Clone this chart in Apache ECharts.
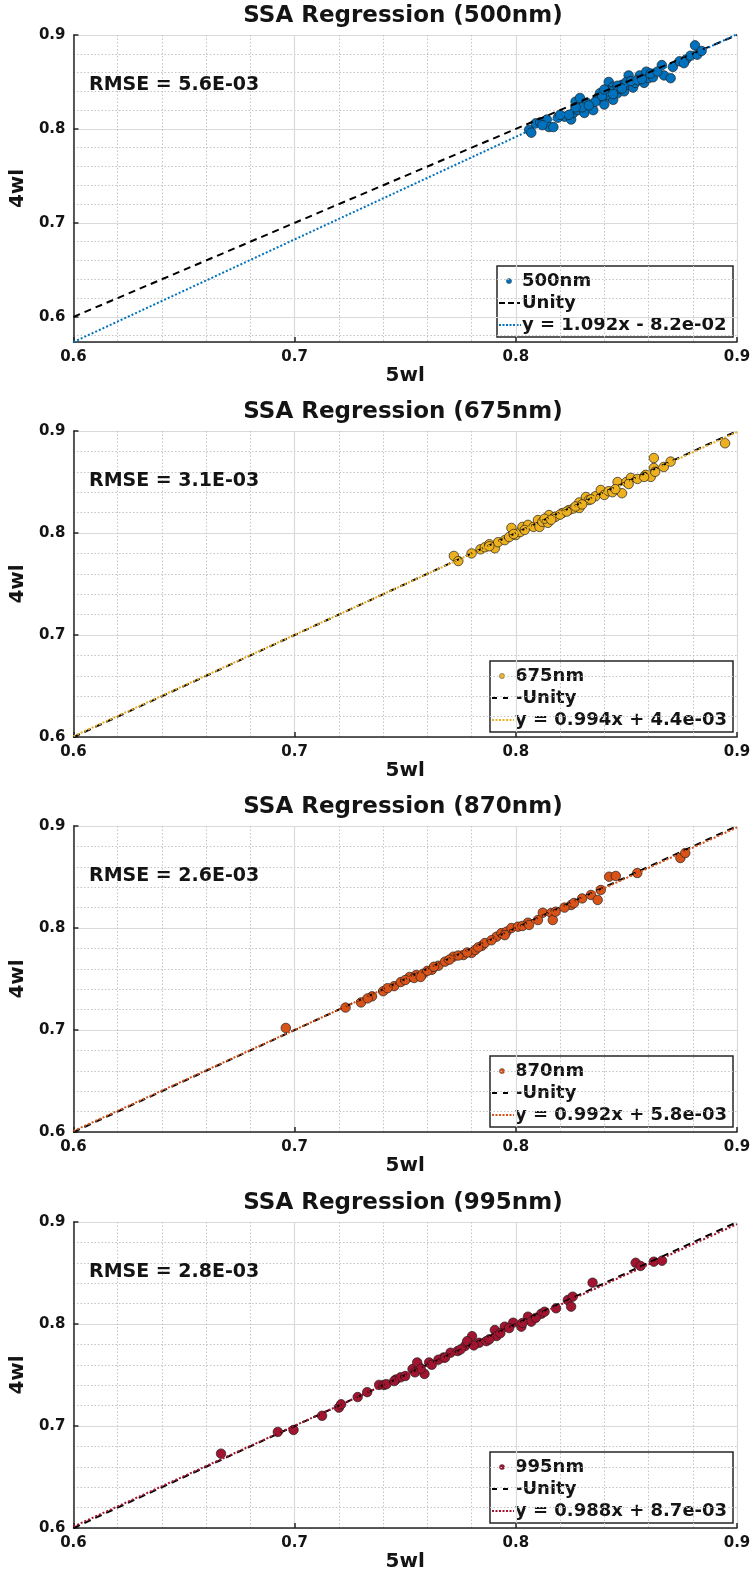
<!DOCTYPE html>
<html>
<head>
<meta charset="utf-8">
<script src="https://cdn.jsdelivr.net/npm/echarts@6/dist/echarts.min.js"></script>
<style>
  html, body { margin: 0; padding: 0; background: #ffffff; }
  #chart { width: 754px; height: 1580px; }
</style>
</head>
<body>
<div id="chart"></div>
<script>
// ---- data ----
const bands = ['500nm', '675nm', '870nm', '995nm'];
const titles = ['SSA Regression (500nm)', 'SSA Regression (675nm)', 'SSA Regression (870nm)', 'SSA Regression (995nm)'];
const colors = ['#0072BD', '#EDB120', '#D95319', '#A2142F'];
const slopes = [1.092, 0.994, 0.992, 0.988];
const intercepts = [-8.2e-2, 4.4e-3, 5.8e-3, 8.7e-3];
const fitLabels = ['y = 1.092x - 8.2e-02', 'y = 0.994x + 4.4e-03', 'y = 0.992x + 5.8e-03', 'y = 0.988x + 8.7e-03'];
const rmseLabels = ['RMSE = 5.6E-03', 'RMSE = 3.1E-03', 'RMSE = 2.6E-03', 'RMSE = 2.8E-03'];
const xRange = [0.6, 0.9];
const yMins = [0.5732, 0.6, 0.6, 0.6];
const yMax = 0.9;
const unityEnds = [0.6, 0.9];
const xName = '5wl';
const yName = '4wl';

const pts500 = [
  [0.806,0.799],[0.807,0.796],[0.809,0.806],[0.811,0.807],[0.814,0.810],[0.815,0.802],[0.817,0.802],[0.812,0.804],
  [0.822,0.813],[0.825,0.810],[0.826,0.817],[0.827,0.829],[0.829,0.833],[0.828,0.820],[0.831,0.817],[0.832,0.828],
  [0.835,0.820],[0.824,0.815],[0.830,0.823],[0.838,0.838],[0.839,0.831],[0.840,0.826],[0.842,0.850],[0.842,0.841],
  [0.843,0.834],[0.844,0.845],[0.844,0.831],[0.846,0.838],[0.848,0.847],[0.849,0.840],[0.851,0.857],[0.851,0.847],
  [0.853,0.844],[0.854,0.849],[0.856,0.857],[0.858,0.849],[0.859,0.861],[0.860,0.854],[0.862,0.855],[0.866,0.868],
  [0.867,0.857],[0.870,0.854],[0.871,0.866],[0.841,0.836],[0.845,0.842],[0.847,0.843],[0.850,0.850],[0.837,0.833],
  [0.843,0.840],[0.874,0.872],[0.877,0.874],[0.879,0.878],[0.881,0.889],[0.882,0.879],[0.884,0.883],[0.876,0.870],
  [0.836,0.829],[0.839,0.835],[0.840,0.842],[0.844,0.837],[0.846,0.846],[0.848,0.843],[0.852,0.851],[0.855,0.852],
  [0.857,0.853],[0.861,0.859],[0.864,0.861],[0.833,0.825],[0.827,0.823],[0.819,0.812],[0.820,0.815]
];
const pts675 = [
  [0.772,0.7775],[0.774,0.7725],[0.780,0.780],[0.784,0.784],[0.786,0.786],[0.788,0.789],[0.7905,0.785],[0.792,0.791],
  [0.795,0.793],[0.798,0.805],[0.797,0.796],[0.800,0.798],[0.802,0.801],[0.803,0.806],[0.8055,0.808],[0.808,0.806],
  [0.810,0.8127],[0.8107,0.806],[0.812,0.811],[0.8145,0.810],[0.815,0.8176],[0.8175,0.8157],[0.818,0.816],[0.821,0.8196],
  [0.824,0.8225],[0.826,0.824],[0.8287,0.8245],[0.8287,0.830],[0.8317,0.8353],[0.833,0.8323],[0.836,0.836],[0.8384,0.8422],
  [0.840,0.8373],[0.842,0.841],[0.8437,0.840],[0.846,0.850],[0.848,0.839],[0.850,0.850],[0.852,0.854],[0.855,0.853],
  [0.8587,0.857],[0.861,0.855],[0.8624,0.8735],[0.8624,0.8637],[0.863,0.860],[0.8669,0.8647],[0.870,0.870],[0.8946,0.888],
  [0.788,0.787],[0.799,0.799],[0.804,0.803],[0.813,0.814],[0.816,0.813],[0.820,0.818],[0.823,0.821],[0.827,0.826],
  [0.830,0.828],[0.834,0.833],[0.845,0.843],[0.851,0.848],[0.858,0.855]
];
const pts870 = [
  [0.696,0.702],[0.723,0.722],[0.730,0.727],[0.735,0.733],[0.740,0.738],[0.745,0.743],[0.748,0.747],[0.752,0.752],
  [0.755,0.754],[0.758,0.755],[0.762,0.759],[0.765,0.763],[0.768,0.767],[0.7718,0.7719],[0.7763,0.7735],[0.780,0.7755],
  [0.7816,0.7784],[0.7846,0.7824],[0.786,0.7853],[0.7913,0.7915],[0.7935,0.795],[0.7958,0.7964],[0.798,0.800],[0.801,0.8013],
  [0.8055,0.8052],[0.810,0.8078],[0.8122,0.815],[0.816,0.8147],[0.8167,0.8078],[0.825,0.8225],[0.8263,0.8245],[0.834,0.8324],
  [0.837,0.8275],[0.8384,0.8373],[0.8422,0.8503],[0.8452,0.851],[0.8549,0.8539],[0.8744,0.8686],[0.8766,0.8735],
  [0.742,0.741],[0.750,0.749],[0.754,0.751],[0.760,0.758],[0.763,0.762],[0.770,0.769],[0.774,0.773],[0.778,0.776],
  [0.783,0.781],[0.789,0.788],[0.795,0.793],[0.803,0.802],[0.806,0.803],[0.818,0.816],[0.822,0.820],[0.830,0.829],
  [0.757,0.752],[0.733,0.731]
];
const pts995 = [
  [0.6667,0.6729],[0.6924,0.6942],[0.6995,0.6961],[0.7124,0.710],[0.720,0.718],[0.721,0.7213],[0.7285,0.7284],[0.7328,0.7332],
  [0.7382,0.7403],[0.7404,0.7403],[0.7457,0.7455],[0.7479,0.7477],[0.7533,0.7558],[0.7544,0.7526],[0.7565,0.7574],[0.7587,0.751],
  [0.7554,0.7623],[0.7608,0.7623],[0.7673,0.7671],[0.7705,0.7719],[0.7737,0.7735],[0.7770,0.7784],[0.7802,0.7881],[0.778,0.7832],
  [0.7834,0.7816],[0.7867,0.7832],[0.7905,0.7941],[0.7913,0.7882],[0.795,0.7974],[0.7988,0.8013],[0.8025,0.7974],[0.8055,0.8072],
  [0.807,0.8023],[0.8115,0.810],[0.8182,0.8154],[0.8235,0.8235],[0.825,0.817],[0.8257,0.8268],[0.8347,0.8405],[0.8542,0.860],
  [0.8564,0.8569],[0.8624,0.8611],[0.8661,0.862],
  [0.7415,0.741],[0.745,0.744],[0.750,0.749],[0.757,0.756],[0.762,0.760],[0.765,0.765],[0.768,0.767],[0.775,0.775],
  [0.781,0.779],[0.788,0.785],[0.793,0.791],[0.797,0.796],[0.803,0.801],[0.809,0.806],[0.813,0.812]
];
const allPoints = [pts500, pts675, pts870, pts995];

// ---- layout ----
const plotLeft = 69, plotWidth = 668;
const plotTops = [35, 431, 826, 1222];
const plotHeights = [307, 306, 306, 306];
const FONT = '"DejaVu Sans", "Verdana", sans-serif';
const INK = '#141414';
const AXIS = '#262626';

const chart = echarts.init(document.getElementById('chart'), null, { renderer: 'canvas' });

const grids = [], xAxes = [], yAxes = [], series = [], graphics = [];

bands.forEach((band, i) => {
  const top = plotTops[i], h = plotHeights[i];
  grids.push({ left: plotLeft, top: top, width: plotWidth, height: h, containLabel: false });

  const common = {
    type: 'value',
    gridIndex: i,
    axisLine: { show: true, onZero: false, lineStyle: { color: AXIS, width: 1.5 } },
    axisTick: { show: true, inside: true, length: 5, lineStyle: { color: AXIS, width: 1.5 } },
    axisLabel: { color: INK, fontSize: 15, fontWeight: 'bold', fontFamily: FONT, margin: 8,
                 formatter: v => v.toFixed(1) },
    splitLine: { show: true, lineStyle: { color: '#dadada', width: 1.2 } },
    minorTick: { show: false, splitNumber: 5 },
    minorSplitLine: { show: true, lineStyle: { color: '#c4c4c4', width: 1, type: [1.5, 2] } },
    nameLocation: 'middle',
    nameTextStyle: { color: INK, fontSize: 20, fontWeight: 'bold', fontFamily: FONT }
  };

  xAxes.push(Object.assign({}, common, {
    min: xRange[0], max: xRange[1], interval: 0.1,
    name: xName, nameGap: 19
  }));

  const y = Object.assign({}, common, {
    min: yMins[i], max: yMax,
    name: yName, nameGap: 38
  });
  if (yMins[i] === 0.6) {
    y.interval = 0.1;
  } else {
    // lower bound follows the fit line; let the scale pick 0.1 steps from 0.6
    y.splitNumber = 3;
    y.axisLabel = Object.assign({}, common.axisLabel, { showMinLabel: false });
  }
  yAxes.push(y);

  series.push({
    name: band, type: 'scatter', xAxisIndex: i, yAxisIndex: i,
    data: allPoints[i], symbol: 'circle', symbolSize: 9.5, z: 2,
    itemStyle: { color: colors[i], borderColor: '#202020', borderWidth: 0.7, opacity: 1 }
  });
  series.push({
    name: 'Unity', type: 'line', xAxisIndex: i, yAxisIndex: i,
    data: [[unityEnds[0], unityEnds[0]], [unityEnds[1], unityEnds[1]]],
    symbol: 'none', z: 3, silent: true,
    lineStyle: { color: '#000000', width: 2, type: [7, 5] }
  });
  const a = slopes[i], b = intercepts[i];
  series.push({
    name: fitLabels[i], type: 'line', xAxisIndex: i, yAxisIndex: i,
    data: [[xRange[0], a * xRange[0] + b], [xRange[1], a * xRange[1] + b]],
    symbol: 'none', z: 4, silent: true,
    lineStyle: { color: colors[i], width: 2, type: [2, 2] }
  });

  // title
  graphics.push({
    type: 'text', x: plotLeft + plotWidth / 2, y: top - 19, z: 10,
    style: { text: titles[i], fill: INK, font: 'bold 23px ' + FONT,
             align: 'center', verticalAlign: 'middle', textAlign: 'center', textVerticalAlign: 'middle' }
  });
  // RMSE annotation
  graphics.push({
    type: 'text', x: 89, y: top + 50, z: 10,
    style: { text: rmseLabels[i], fill: INK, font: 'bold 19px ' + FONT,
             align: 'left', verticalAlign: 'middle', textAlign: 'left', textVerticalAlign: 'middle' }
  });

  // legend box
  const boxW = i === 0 ? 236 : 243, boxH = 71;
  const boxL = plotLeft + plotWidth - 4 - boxW;
  const boxT = top + h - 5 - boxH;
  const rows = [15, 37, 59];
  const legendFont = 'bold 18px ' + FONT;
  const children = [
    { type: 'rect', shape: { x: 0, y: 0, width: boxW, height: boxH },
      style: { fill: '#ffffff', stroke: AXIS, lineWidth: 1.5 } },
    { type: 'circle', shape: { cx: 12, cy: rows[0], r: 2.6 },
      style: { fill: colors[i], stroke: '#303030', lineWidth: 0.4 } },
    { type: 'line', shape: { x1: 2, y1: rows[1], x2: 23, y2: rows[1] },
      style: { stroke: '#000000', lineWidth: 2, lineDash: i === 0 ? [6, 3] : [5, 6] } },
    { type: 'line', shape: { x1: 2, y1: rows[2], x2: 24, y2: rows[2] },
      style: { stroke: colors[i], lineWidth: 2, lineDash: [2, 1.5] } }
  ];
  const texts = [band, i === 0 ? 'Unity' : '-Unity', fitLabels[i]];
  texts.forEach((t, k) => {
    children.push({
      type: 'text', x: 25, y: rows[k],
      style: { text: t, fill: INK, font: legendFont,
               align: 'left', verticalAlign: 'middle', textAlign: 'left', textVerticalAlign: 'middle' }
    });
  });
  graphics.push({ type: 'group', x: boxL, y: boxT, z: 20, children: children });
});

chart.setOption({
  backgroundColor: '#ffffff',
  animation: false,
  textStyle: { fontFamily: FONT },
  grid: grids,
  xAxis: xAxes,
  yAxis: yAxes,
  series: series,
  graphic: graphics
});
</script>
</body>
</html>
